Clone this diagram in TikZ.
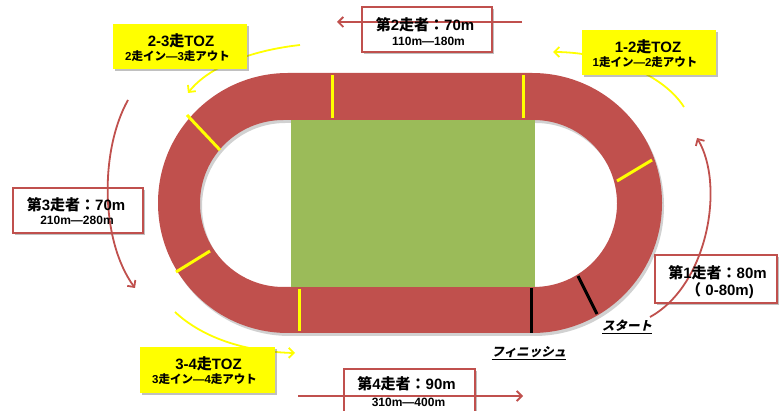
\documentclass[tikz,border=0pt]{standalone}
\usepackage{fontspec}
\setmainfont{Liberation Sans}
\newfontfamily\jp{Noto Sans CJK JP}
\newfontfamily\jpsl{Noto Sans CJK JP}[FakeSlant=0.22]
\usetikzlibrary{shadows,arrows.meta}
\definecolor{trackred}{HTML}{C0504D}
\definecolor{fieldgreen}{HTML}{9BBB59}
\definecolor{tozyellow}{HTML}{FFFF00}
\newcommand{\J}[1]{{\jp #1}}
\tikzset{
  lanemark/.style={tozyellow, line width=3pt},
  linemark/.style={black, line width=3pt},
  boxshadow/.style={drop shadow={shadow xshift=2pt, shadow yshift=-2.5pt, opacity=0.35, fill=black!70}},
  runbox/.style={draw=trackred, line width=1.3pt, fill=white, boxshadow, inner sep=0pt},
  tozbox/.style={fill=tozyellow, boxshadow, inner sep=0pt},
  bigtxt/.style={font=\bfseries\fontsize{15}{17}\selectfont, inner sep=0pt},
  smalltxt/.style={font=\bfseries\fontsize{12}{14}\selectfont, inner sep=0pt},
  toztxt/.style={font=\bfseries\fontsize{11.5}{13}\selectfont, inner sep=0pt},
  redarrow/.style={trackred, line width=1.8pt, -{Straight Barb[length=5pt,width=10pt]}},
  yelarrow/.style={tozyellow, line width=1.8pt, -{Straight Barb[length=5pt,width=10pt]}},
  marklabel/.style={font=\jpsl\bfseries\fontsize{12.5}{14}\selectfont, inner sep=0pt}
}
\begin{document}
\begin{tikzpicture}[x=1pt,y=-1pt]
\useasboundingbox (0,0) rectangle (779,411);
\fill[white] (0,0) rectangle (779,411);

% track shadow
\fill[black, opacity=0.18, even odd rule, rounded corners=129.9pt] (160,76) rectangle (664,336)
   [rounded corners=83.4pt] (202,123) rectangle (619,290);
% track
\fill[trackred, even odd rule, rounded corners=129.9pt] (158,73) rectangle (662,333)
   [rounded corners=83.4pt] (200,120) rectangle (617,287);
% field
\fill[fieldgreen] (291,120) rectangle (535,287);

% lane markers
\draw[lanemark] (332,75) -- (332,118);
\draw[lanemark] (523,75) -- (523,118);
\draw[lanemark] (187,115) -- (220,150);
\draw[lanemark] (176,272) -- (210,251);
\draw[lanemark] (299,289) -- (299,331);
\draw[lanemark] (617,181) -- (652,160);
\draw[linemark] (531,288) -- (531,333);
\draw[linemark] (578,276) -- (597,314);

\node[marklabel] (finish) at (529,353) {\underline{フィニッシュ}};
\node[marklabel] (start) at (627,327) {\underline{スタート}};

% yellow TOZ curves and boxes
\coordinate (y23s) at (300,45);
\coordinate (y23e) at (188,93);
\coordinate (y12s) at (684,107);
\coordinate (y12e) at (553,52);
\coordinate (y34s) at (175,312);
\coordinate (y34e) at (295,353);
\draw[yelarrow] (y23s) .. controls (255,50) and (210,65) .. (y23e);
\draw[yelarrow] (y12s) .. controls (660,70) and (600,52) .. (y12e);
\draw[yelarrow] (y34s) .. controls (205,340) and (250,352) .. (y34e);

\node[tozbox, minimum width=134pt, minimum height=45pt] (t23) at (180,46.5) {};
\node[tozbox, minimum width=134pt, minimum height=45pt] (t12) at (649,52.5) {};
\node[tozbox, minimum width=135pt, minimum height=46pt] (t34) at (207.5,370) {};

\node[bigtxt] (t23a) at (181,41) {2-3\J{走}TOZ};
\node[toztxt] (t23b) at (177.5,56.5) {2\J{走イン}—3\J{走アウト}};
\node[bigtxt] (t12a) at (648,46.5) {1-2\J{走}TOZ};
\node[toztxt] (t12b) at (645,62.5) {1\J{走イン}—2\J{走アウト}};
\node[bigtxt] (t34a) at (208.5,364) {3-4\J{走}TOZ};
\node[toztxt] (t34b) at (204.5,379.5) {3\J{走イン}—4\J{走アウト}};

% runner boxes
\node[runbox, minimum width=130pt, minimum height=45pt] (b2) at (427,29.5) {};
\node[runbox, minimum width=130pt, minimum height=45pt] (b3) at (78,210.5) {};
\node[runbox, minimum width=122pt, minimum height=48pt] (b1) at (716,279) {};
\node[runbox, minimum width=131pt, minimum height=45pt] (b4) at (409.5,391.5) {};

% red arrows
\coordinate (r2s) at (522,22);
\coordinate (r2e) at (337,22);
\coordinate (r3s) at (128,100);
\coordinate (r3e) at (135,288);
\coordinate (r1s) at (650,317);
\coordinate (r1e) at (697,138);
\coordinate (r4s) at (298,396);
\coordinate (r4e) at (523,396);
\draw[redarrow] (r2s) -- (r2e);
\draw[redarrow] (r3s) .. controls (100,150) and (100,240) .. (r3e);
\draw[redarrow] (r1s) .. controls (708,285) and (725,185) .. (r1e);
\draw[redarrow] (r4s) -- (r4e);

% runner texts
\node[bigtxt] (b2a) at (425,25) {\J{第}2\J{走者：}70m};
\node[smalltxt] (b2b) at (428.5,41) {110m—180m};
\node[bigtxt] (b3a) at (76,205) {\J{第}3\J{走者：}70m};
\node[smalltxt] (b3b) at (77,220.5) {210m—280m};
\node[bigtxt] (b1a) at (717.5,272.5) {\J{第}1\J{走者：}80m};
\node[bigtxt] (b1b) at (720,291) {\J{（} 0-80m)};
\node[bigtxt] (b4a) at (406.5,384) {\J{第}4\J{走者：}90m};
\node[smalltxt] (b4b) at (408.5,402) {310m—400m};
\end{tikzpicture}
\end{document}
